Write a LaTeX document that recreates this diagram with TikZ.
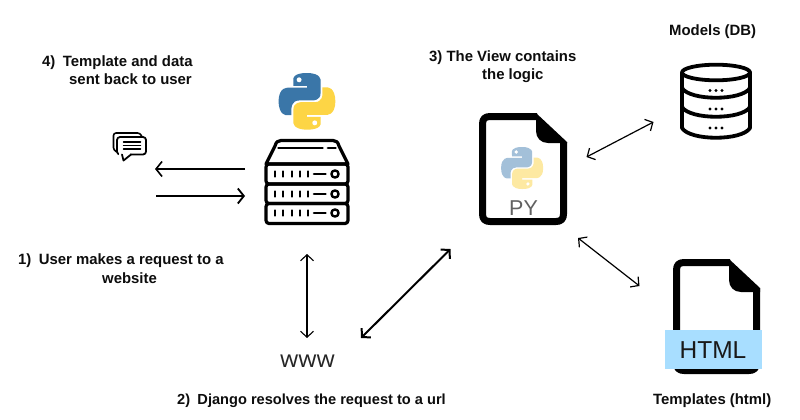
\documentclass[tikz,border=0pt]{standalone}
\usepackage{fontspec}
\setmainfont{Liberation Sans}
\newfontfamily\wwwfont{Open Sans}
\usetikzlibrary{arrows.meta}
\definecolor{pyblue}{HTML}{3A76A8}
\definecolor{pyyellow}{HTML}{FDD545}
\definecolor{pybluef}{HTML}{A3C0D9}
\definecolor{pyyellowf}{HTML}{FDE9A2}
\definecolor{htmlband}{HTML}{A8DEFF}
\tikzset{
  caption/.style={font=\bfseries\fontsize{14.9}{18.5}\selectfont,text=black!95,align=left,inner sep=0pt,anchor=west},
  dbl/.style={{Straight Barb[length=6pt,width=13pt]}-{Straight Barb[length=6pt,width=13pt]},line width=#1},
  sgl/.style={-{Straight Barb[length=6pt,width=15pt]},line width=#1},
  icon/.style={line width=#1,draw=black,line join=round,line cap=round},
}
\newcommand\PyLogo[5]{%
 \begin{scope}[shift={(#1,#2)},x=#3pt,y=-#3pt]
  \fill[#4] (54.9,0) .. controls (27,0) and (28.7,12.2) .. (28.7,12.2) -- (28.8,24.8) -- (55.4,24.8) -- (55.4,28.6) -- (18.2,28.6) .. controls (18.2,28.6) and (0.3,26.6) .. (0.3,54.8) .. controls (0.3,83) and (15.9,82) .. (15.9,82) -- (25.2,82) -- (25.2,68.9) .. controls (25.2,68.9) and (24.7,53.3) .. (40.5,53.3) -- (66.9,53.3) .. controls (66.9,53.3) and (81.7,53.5) .. (81.7,39) -- (81.7,15) .. controls (81.7,15) and (84,0) .. (54.9,0) -- cycle;
  \fill[#5] (55.7,110) .. controls (83.6,110) and (81.9,97.8) .. (81.9,97.8) -- (81.8,85.2) -- (55.2,85.2) -- (55.2,81.4) -- (92.4,81.4) .. controls (92.4,81.4) and (110.3,83.4) .. (110.3,55.2) .. controls (110.3,27) and (94.7,28) .. (94.7,28) -- (85.4,28) -- (85.4,41.1) .. controls (85.4,41.1) and (85.9,56.7) .. (70.1,56.7) -- (43.7,56.7) .. controls (43.7,56.7) and (28.9,56.5) .. (28.9,71) -- (28.9,95) .. controls (28.9,95) and (26.6,110) .. (55.7,110) -- cycle;
  \fill[white] (40,13.2) circle (4.8);
  \fill[white] (70.4,96.8) circle (4.8);
 \end{scope}}
\newcommand\RackRow[1]{%
  \foreach \dx in {275,283,292,300,308}{\draw[icon=2.6] (\dx,#1-2.5) -- (\dx,#1+2.5);}
  \draw[icon=2.6] (314,#1) -- (325.5,#1);
  \draw[icon=2.4] (335,#1) circle (3.6);}
\begin{document}
\begin{tikzpicture}[x=1pt,y=-1pt]
\useasboundingbox[fill=white] (0,0) rectangle (800,420);
% captions
\node[caption] (cap4) at (42,70) {4)\enspace Template and data\\\hspace*{27pt}sent back to user};
\node[caption] (cap3) at (429,66.5) {3) The View contains\\\hspace*{53pt}the logic};
\node[caption] (capdb) at (669,32) {Models (DB)};
\node[caption] (cap1) at (18,268.5) {1)\enspace User makes a request to a\\\hspace*{84pt}website};
\node[caption,font=\bfseries\fontsize{14.6}{18.5}\selectfont] (cap2) at (177,400.5) {2)\enspace Django resolves the request to a url};
\node[caption] (capt) at (653,401) {Templates (html)};
\node[inner sep=0pt,font=\wwwfont\fontsize{23.5}{25}\selectfont,text=black!85] (www) at (307.5,361) {www};
% python logo above server
\PyLogo{278.5}{73}{0.515}{pyblue}{pyyellow}
% server
\draw[icon=3.2] (266,164) -- (275,146) .. controls (276,142) and (278,140.5) .. (281,140.5) -- (333,140.5) .. controls (336,140.5) and (338,142) .. (339,146) -- (348,164) -- cycle;
\draw[icon=2.8] (278.5,148) -- (322.5,148);
\draw[icon=2.8] (328,148) -- (335.5,148);
\draw[icon=3.2,rounded corners=3pt] (266,164) rectangle (348,184);
\draw[icon=3.2,rounded corners=3pt] (266,184) rectangle (348,203.5);
\draw[icon=3.2,rounded corners=3pt] (266,203.5) rectangle (348,223.5);
\RackRow{174}\RackRow{194}\RackRow{213}
% chat icon
\draw[icon=1.6,rounded corners=2.5pt] (117,152) -- (113.5,150) -- (113.5,133) -- (140,133) -- (142,137);
\draw[icon=1.8,fill=white,rounded corners=3pt] (117,137) rectangle (146,154.5);
\fill[white] (119,153) rectangle (130,156);
\draw[icon=1.8] (122,154.5) -- (123.5,160.5) -- (131,154.5);
\foreach \ly in {142,145.5,149}{\draw[icon=1.5] (123.5,\ly) -- (140.5,\ly);}
% PY file
\draw[line width=7pt,line join=round] (537,116.5) -- (490,116.5) .. controls (485,116.5) and (482.5,119) .. (482.5,124) -- (482.5,214) .. controls (482.5,219) and (485,221.5) .. (490,221.5) -- (556,221.5) .. controls (561,221.5) and (563.5,219) .. (563.5,214) -- (563.5,142);
\fill (536,113) -- (567,142) -- (567,143) -- (548,143) .. controls (541,143) and (536,138) .. (536,131) -- cycle;
\PyLogo{501}{147}{0.382}{pybluef}{pyyellowf}
\node[inner sep=0pt,font=\fontsize{21.5}{24}\selectfont,text=black!62] (py) at (523.5,208.5) {PY};
% DB icon
\draw[icon=3.8,fill=white] (716,72.5) ellipse (34 and 7.8);
\draw[icon=3.8] (682,72.5) -- (682,128) .. controls (690,141) and (742,141) .. (750,128) -- (750,72.5);
\draw[icon=3.8] (682,88) .. controls (690,101) and (742,101) .. (750,88);
\draw[icon=3.8] (682,107) .. controls (690,120) and (742,120) .. (750,107);
\foreach \ry in {90.5,109,128}{\foreach \rx in {710,716,722}{\fill (\rx,\ry) circle (1.6);}}
% HTML file
\draw[line width=7pt,line join=round] (730,262.5) -- (684,262.5) .. controls (679,262.5) and (676.5,265) .. (676.5,270) -- (676.5,363) .. controls (676.5,368) and (679,370.5) .. (684,370.5) -- (749,370.5) .. controls (754,370.5) and (756.5,368) .. (756.5,363) -- (756.5,288);
\fill (729,259) -- (760,288) -- (760,292) -- (741,292) .. controls (734,292) and (729,287) .. (729,280) -- cycle;
\fill[htmlband] (665,330) rectangle (762,369);
\node[inner sep=0pt,font=\fontsize{24.5}{26}\selectfont,text=black!90] (html) at (713,350) {HTML};
% connector ends
\coordinate (outA) at (245,169);
\coordinate (outB) at (155,169);
\coordinate (inA) at (156,196);
\coordinate (inB) at (245,196);
\coordinate (wwwT) at (307,254);
\coordinate (wwwB) at (307,338);
\coordinate (viewA) at (450.5,249);
\coordinate (viewB) at (361,338);
\coordinate (dbA) at (653.5,122);
\coordinate (dbB) at (586.5,157);
\coordinate (tplA) at (578,238);
\coordinate (tplB) at (639.5,286);
\draw[sgl=1.6] (outA) -- (outB);
\draw[sgl=1.8] (inA) -- (inB);
\draw[dbl=1.1] (wwwT) -- (wwwB);
\draw[dbl=2] (viewA) -- (viewB);
\draw[dbl=1.2] (dbA) -- (dbB);
\draw[dbl=1.2] (tplA) -- (tplB);
\end{tikzpicture}
\end{document}
